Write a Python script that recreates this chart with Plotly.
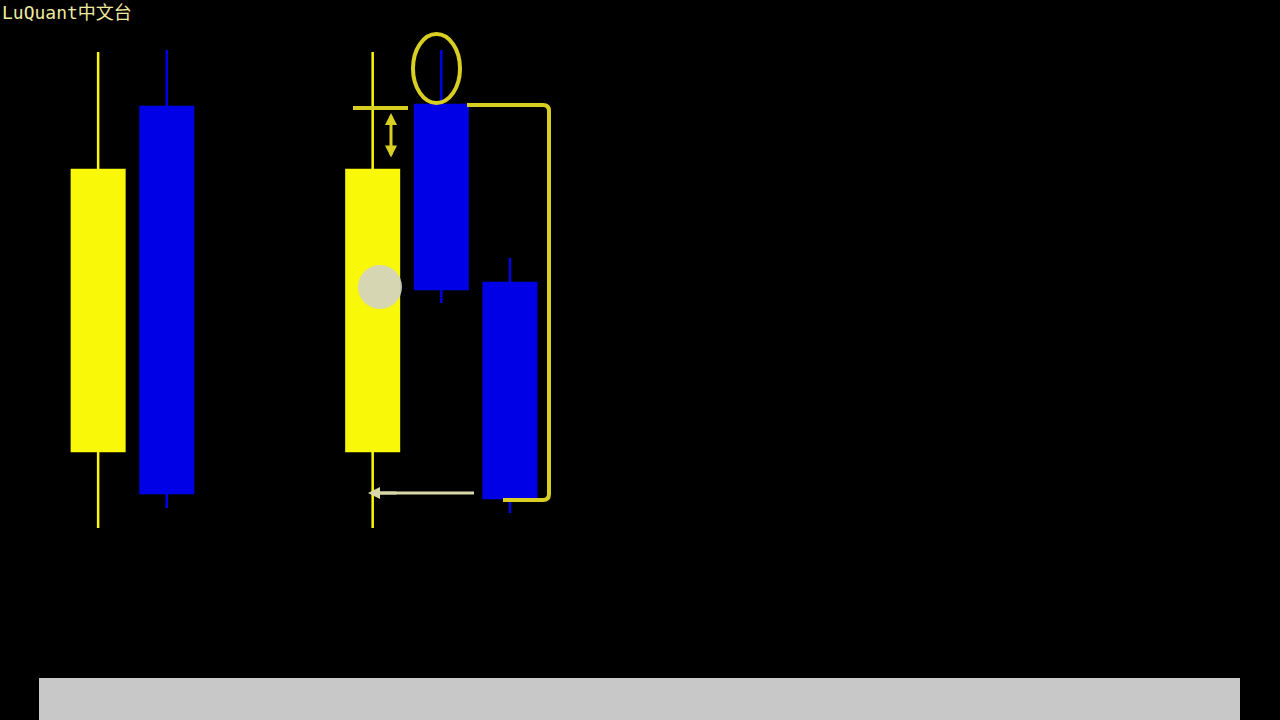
import plotly.graph_objects as go

# ---- data (price units) ----
slots = [1, 2, 5, 6, 7]
opens = [21.8, 90.6, 21.8, 91.0, 55.4]
highs = [101.6, 102.0, 101.6, 102.0, 60.4]
lows = [6.4, 10.4, 6.4, 51.4, 9.4]
closes = [78.0, 13.4, 78.0, 54.2, 12.4]

title_text = "LuQuant中文台"

W, H = 1280, 720
YEL = "#f8f808"
BLUE = "#0000e6"
ANN = "#d8cf22"
PALE = "#d8d8a8"

def px(x):
    return x / W

def py(y):
    return 1 - y / H

fig = go.Figure()
fig.add_trace(go.Candlestick(
    x=slots, open=opens, high=highs, low=lows, close=closes,
    increasing=dict(line=dict(color=YEL, width=2.5), fillcolor=YEL),
    decreasing=dict(line=dict(color=BLUE, width=2.5), fillcolor=BLUE),
    whiskerwidth=0, showlegend=False, hoverinfo="skip",
))

shapes = []
# bottom grey bar
shapes.append(dict(type="rect", xref="paper", yref="paper",
                   x0=px(39), x1=px(1240), y0=py(720), y1=py(678),
                   fillcolor="#c8c8c8", line=dict(width=0), layer="above"))
# oval around upper wick
shapes.append(dict(type="circle", xref="paper", yref="paper",
                   x0=px(413), x1=px(460), y0=py(103), y1=py(34),
                   line=dict(color=ANN, width=4)))
# horizontal level line
shapes.append(dict(type="line", xref="paper", yref="paper",
                   x0=px(353), x1=px(408), y0=py(108), y1=py(108),
                   line=dict(color=ANN, width=4)))
# bracket
def P(x, y):
    return f"{px(x):.5f},{py(y):.5f}"
path = (f"M {P(467,105)} L {P(543,105)} Q {P(549,105)} {P(549,111)} "
        f"L {P(549,494)} Q {P(549,500)} {P(543,500)} L {P(503,500)}")
shapes.append(dict(type="path", xref="paper", yref="paper", path=path,
                   line=dict(color=ANN, width=4)))
# pale level line
shapes.append(dict(type="line", xref="paper", yref="paper",
                   x0=px(372), x1=px(474), y0=py(493), y1=py(493),
                   line=dict(color=PALE, width=3)))
# cursor highlight circle
shapes.append(dict(type="circle", xref="paper", yref="paper",
                   x0=px(358), x1=px(402), y0=py(309), y1=py(265),
                   fillcolor="#d2d2c6", line=dict(width=0), opacity=0.9))

annotations = [
    dict(text=title_text, xref="paper", yref="paper", x=0, y=1,
         xanchor="left", yanchor="top", showarrow=False,
         font=dict(family="DejaVu Sans Mono, Noto Sans CJK SC", size=18, color="#eeeaa0")),
    dict(text="", xref="paper", yref="paper", x=px(391), y=py(113),
         ax=0, ay=46, showarrow=True, arrowhead=2, startarrowhead=2,
         arrowside="end+start", arrowwidth=3, arrowcolor=ANN, arrowsize=0.8,
         startarrowsize=0.8),
    dict(text="", xref="paper", yref="paper", x=px(368), y=py(493),
         ax=30, ay=0, showarrow=True, arrowhead=2, arrowwidth=3,
         arrowcolor=PALE, arrowsize=0.8),
]

fig.update_layout(
    width=W, height=H,
    paper_bgcolor="#000000", plot_bgcolor="#000000",
    margin=dict(l=0, r=0, t=0, b=0),
    boxgap=0.1, boxgroupgap=0.15,
    xaxis=dict(range=[-0.43, 18.22], visible=False, rangeslider=dict(visible=False),
               fixedrange=True),
    yaxis=dict(range=[-32, 112], visible=False, fixedrange=True),
    shapes=shapes, annotations=annotations,
)

fig.write_html("out.html",
               config={"displayModeBar": False},
               post_script="document.body.style.margin='0';document.body.style.background='#000';document.body.style.overflow='hidden';")
